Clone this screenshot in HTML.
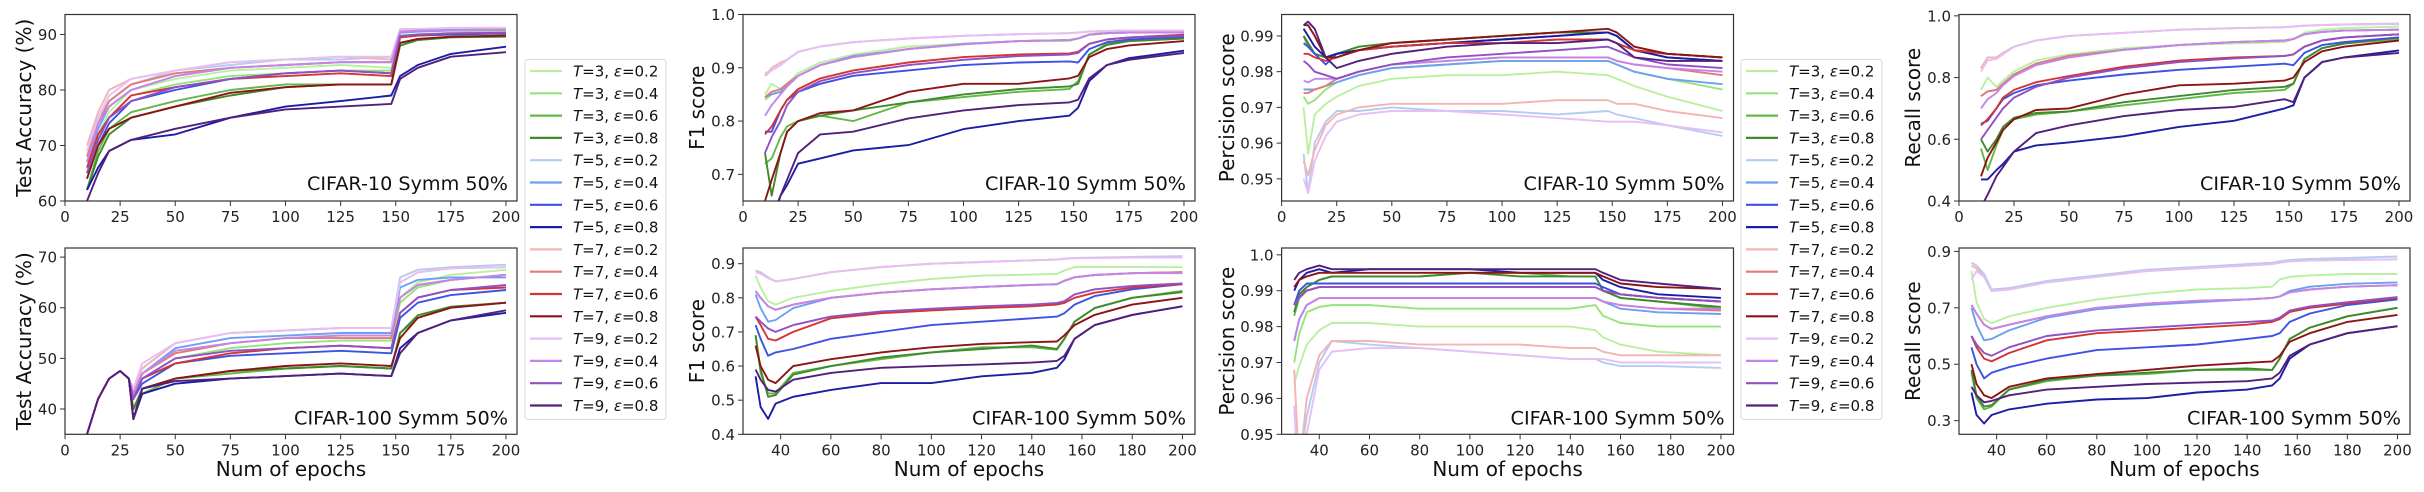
<!DOCTYPE html>
<html><head><meta charset="utf-8">
<style>
html,body{margin:0;padding:0;background:#fff;}
svg{display:block;font-family:"DejaVu Sans","Liberation Sans",sans-serif;}
</style></head>
<body>
<svg id="fig" width="2424" height="492" viewBox="0 0 2424 492" xmlns="http://www.w3.org/2000/svg"></svg>
<script>
// ---------- data ----------
const seriesLabels = ["T=3, ε=0.2","T=3, ε=0.4","T=3, ε=0.6","T=3, ε=0.8","T=5, ε=0.2","T=5, ε=0.4","T=5, ε=0.6","T=5, ε=0.8","T=7, ε=0.2","T=7, ε=0.4","T=7, ε=0.6","T=7, ε=0.8","T=9, ε=0.2","T=9, ε=0.4","T=9, ε=0.6","T=9, ε=0.8"];
const seriesColors = ["#b9f0a0","#94e47a","#62b84a","#3f8a2c","#b4ccf2","#6f9ff0","#3d52e2","#1c1ca6","#f2b4b4","#e67878","#d43434","#8c1414","#e6bff4","#c385ea","#9150c4","#52207c"];

const epochsAcc10 = [10,15,20,30,50,75,100,125,148,152,160,175,200];
const accC10 = [
[65,72,76,80,82,83.5,84,84.5,84,89.5,89.8,90,90.3],
[64,71,75,79,81,82.5,83,83.5,83.5,89.8,90,90.3,90.5],
[62,69,73,76,78,80,81,81,81,88.5,89,89.5,89.8],
[62,68,72,75,77,79,80.5,81,81,88,89,89.5,89.6],
[68,75,78,81,83.5,84.5,85.5,85.5,86,90.8,91,91,91],
[67,73,77,80,82.5,84,84.5,85,85,90.3,90.5,90.7,90.8],
[65,70,74,78,80,82,83,83.5,83,89.5,89.8,90,90.2],
[62,66,69,71,72,75,77,78,79,82.5,84.5,86.5,87.8],
[70,76,80,82,83.5,85,85.5,86,85.5,90.8,91,91,91],
[68,74,78,81,83,84,84.5,85,85,90.5,90.7,90.8,91],
[66,72,75,79,80.5,82,82.5,83,82.5,89.5,89.8,90.2,90.3],
[64,70,73,75,77,79.5,80.5,81,81,88.5,89.2,89.6,89.8],
[69,75,79,82,83.5,85,85.5,86,86,91,91,91.2,91.2],
[67,74,77,80,82.5,84,84.5,85,85,90.5,90.7,90.8,90.8],
[65,71,75,78,80.5,82,83,83.5,83,89.7,90,90.2,90.3],
[60,65,69,71,73,75,76.5,77,77.5,82,84,86,86.8]];

const epochsAcc100 = [10,15,20,25,29,31,35,50,75,100,125,148,152,160,175,200];
const accC100 = [
[35,42,46,47.5,46,44,47,51,53,54,54.5,54.5,62,65,66.5,67.5],
[35,42,46,47.5,46,43,46,50,52,53,53.5,53.5,61,64,65.5,66.5],
[35,42,46,47.5,46,40,43,46,47,48,48.5,48,55,58,60,61],
[35,42,46,47.5,46,40,44,46,47.5,48,48.5,48,55,58.5,60.2,61],
[35,42,46,47.5,46,44,48,53,55,55.5,56,56,66,67.5,68,68.5],
[35,42,46,47.5,46,43,47,52,54,54.5,55,55,64,65.5,66,66],
[35,42,46,47.5,46,42,45,49,50.5,51,51.5,51,58,61,62.5,63.5],
[35,42,46,47.5,46,38,43,45,46,46.5,47,46.5,52,55,57.5,59],
[35,42,46,47.5,46,44,48,53,55,55.5,56,56,65,67,67.8,68],
[35,42,46,47.5,46,43,47,51,53,54,54,54,62,64.5,65.5,66.5],
[35,42,46,47.5,46,42,46,49,51,52,52.5,52,59,62,63.5,64],
[35,42,46,47.5,46,38,44,46,47.5,48.5,49,48.5,54,58,60,61],
[35,42,46,47.5,46,44,49,53,55,55.5,56,56,65,67,67.8,68],
[35,42,46,47.5,46,43,47,51.5,53,54,54.5,54.5,62,64.5,65.5,66.5],
[35,42,46,47.5,46,42,46,50,51.5,52,52.5,52,59,62,63.5,64.5],
[35,42,46,47.5,46,38,44,45.5,46,46.5,47,46.5,51,55,57.5,59.5]];

const epochsC10 = [10,13,17,20,25,35,50,75,100,125,148,152,157,165,175,200];
const f1C10 = [
[0.85,0.87,0.86,0.87,0.89,0.91,0.925,0.94,0.945,0.95,0.95,0.955,0.963,0.966,0.967,0.968],
[0.84,0.85,0.855,0.87,0.885,0.905,0.92,0.935,0.945,0.95,0.952,0.955,0.962,0.965,0.966,0.967],
[0.72,0.73,0.77,0.79,0.80,0.81,0.80,0.835,0.845,0.855,0.86,0.875,0.925,0.945,0.95,0.955],
[0.74,0.66,0.74,0.78,0.80,0.81,0.82,0.835,0.85,0.86,0.865,0.87,0.925,0.943,0.95,0.955],
[0.885,0.895,0.905,0.915,0.93,0.94,0.948,0.955,0.96,0.963,0.965,0.966,0.968,0.969,0.97,0.97],
[0.845,0.85,0.855,0.865,0.885,0.905,0.922,0.935,0.945,0.95,0.952,0.955,0.962,0.965,0.966,0.967],
[0.78,0.78,0.82,0.84,0.855,0.87,0.885,0.895,0.905,0.91,0.912,0.91,0.935,0.948,0.953,0.958],
[0.6,0.62,0.66,0.68,0.72,0.73,0.745,0.755,0.785,0.80,0.81,0.825,0.875,0.905,0.918,0.932],
[0.885,0.9,0.91,0.915,0.93,0.94,0.948,0.955,0.96,0.963,0.965,0.966,0.968,0.969,0.97,0.97],
[0.845,0.855,0.86,0.87,0.885,0.905,0.92,0.935,0.944,0.95,0.952,0.955,0.962,0.965,0.966,0.967],
[0.775,0.79,0.82,0.84,0.86,0.88,0.895,0.91,0.92,0.925,0.927,0.93,0.945,0.953,0.957,0.962],
[0.65,0.69,0.74,0.78,0.80,0.815,0.82,0.855,0.87,0.87,0.88,0.885,0.92,0.935,0.942,0.95],
[0.89,0.895,0.905,0.915,0.93,0.94,0.948,0.955,0.96,0.963,0.965,0.966,0.968,0.969,0.97,0.97],
[0.81,0.83,0.85,0.865,0.885,0.905,0.92,0.935,0.944,0.95,0.952,0.955,0.962,0.965,0.966,0.966],
[0.74,0.77,0.8,0.83,0.855,0.875,0.89,0.905,0.915,0.922,0.925,0.928,0.945,0.953,0.957,0.96],
[0.55,0.6,0.66,0.69,0.74,0.775,0.78,0.805,0.82,0.83,0.835,0.84,0.88,0.905,0.915,0.928]];

const epochsC100 = [30,32,35,38,45,60,80,100,120,140,150,153,157,165,180,200];
const f1C100 = [
[0.865,0.83,0.79,0.78,0.8,0.82,0.84,0.855,0.865,0.868,0.87,0.88,0.89,0.89,0.89,0.89],
[0.82,0.8,0.775,0.765,0.78,0.8,0.815,0.825,0.832,0.838,0.84,0.85,0.86,0.867,0.872,0.875],
[0.69,0.58,0.52,0.52,0.58,0.6,0.62,0.64,0.655,0.655,0.648,0.68,0.73,0.77,0.8,0.82],
[0.69,0.59,0.51,0.515,0.575,0.6,0.625,0.64,0.65,0.66,0.65,0.68,0.73,0.77,0.8,0.817],
[0.88,0.875,0.86,0.848,0.855,0.875,0.89,0.9,0.905,0.91,0.912,0.915,0.917,0.918,0.92,0.922],
[0.81,0.77,0.73,0.735,0.77,0.8,0.815,0.825,0.832,0.838,0.84,0.85,0.86,0.867,0.872,0.875],
[0.72,0.68,0.63,0.64,0.65,0.68,0.7,0.72,0.73,0.74,0.745,0.755,0.78,0.805,0.825,0.84],
[0.57,0.48,0.445,0.49,0.51,0.53,0.55,0.55,0.57,0.58,0.595,0.62,0.68,0.72,0.75,0.775],
[0.88,0.872,0.858,0.848,0.855,0.875,0.89,0.9,0.905,0.91,0.912,0.914,0.916,0.917,0.918,0.918],
[0.82,0.8,0.775,0.765,0.78,0.8,0.815,0.825,0.832,0.838,0.84,0.85,0.86,0.867,0.872,0.875],
[0.745,0.72,0.68,0.675,0.7,0.74,0.755,0.763,0.77,0.775,0.78,0.785,0.8,0.815,0.83,0.84],
[0.66,0.6,0.56,0.55,0.6,0.62,0.64,0.655,0.665,0.67,0.672,0.69,0.72,0.75,0.78,0.8],
[0.875,0.87,0.858,0.848,0.855,0.875,0.89,0.9,0.905,0.91,0.912,0.914,0.916,0.917,0.918,0.918],
[0.82,0.8,0.775,0.765,0.78,0.8,0.815,0.825,0.832,0.838,0.84,0.85,0.86,0.867,0.872,0.872],
[0.745,0.73,0.71,0.7,0.72,0.745,0.76,0.768,0.775,0.78,0.785,0.79,0.81,0.825,0.835,0.842],
[0.59,0.56,0.53,0.525,0.56,0.58,0.595,0.6,0.605,0.61,0.615,0.63,0.68,0.72,0.75,0.775]];

const epochsPrec10 = [10,12,15,20,25,35,50,75,100,125,148,152,160,175,200];
const precC10 = [
[0.97,0.957,0.968,0.971,0.973,0.976,0.978,0.979,0.979,0.98,0.979,0.978,0.976,0.973,0.969],
[0.973,0.971,0.972,0.975,0.977,0.979,0.981,0.982,0.983,0.983,0.983,0.982,0.98,0.978,0.975],
[0.99,0.987,0.985,0.984,0.985,0.986,0.988,0.989,0.99,0.991,0.991,0.99,0.986,0.985,0.984],
[0.99,0.988,0.985,0.984,0.985,0.987,0.988,0.989,0.99,0.991,0.991,0.99,0.986,0.985,0.984],
[0.957,0.946,0.96,0.966,0.969,0.969,0.97,0.969,0.969,0.968,0.969,0.968,0.967,0.965,0.962],
[0.975,0.975,0.975,0.976,0.977,0.979,0.981,0.982,0.983,0.983,0.983,0.982,0.98,0.978,0.9765],
[0.988,0.987,0.985,0.982,0.985,0.986,0.987,0.988,0.989,0.99,0.991,0.99,0.986,0.984,0.983],
[0.992,0.99,0.987,0.984,0.985,0.986,0.987,0.988,0.989,0.99,0.991,0.99,0.986,0.984,0.983],
[0.955,0.951,0.958,0.965,0.968,0.97,0.971,0.971,0.971,0.972,0.972,0.971,0.971,0.969,0.967],
[0.974,0.974,0.975,0.976,0.978,0.98,0.982,0.983,0.984,0.984,0.984,0.983,0.982,0.981,0.979],
[0.985,0.985,0.984,0.983,0.984,0.986,0.987,0.988,0.988,0.989,0.989,0.988,0.986,0.985,0.984],
[0.993,0.993,0.99,0.984,0.984,0.986,0.988,0.989,0.99,0.991,0.992,0.991,0.987,0.985,0.984],
[0.95,0.946,0.955,0.962,0.966,0.968,0.969,0.969,0.968,0.967,0.966,0.966,0.966,0.965,0.963],
[0.9775,0.977,0.978,0.978,0.978,0.98,0.982,0.983,0.984,0.984,0.984,0.983,0.982,0.981,0.98],
[0.983,0.982,0.98,0.979,0.978,0.98,0.982,0.984,0.985,0.986,0.987,0.986,0.984,0.982,0.981],
[0.993,0.994,0.992,0.984,0.981,0.983,0.985,0.987,0.988,0.988,0.989,0.988,0.984,0.983,0.983]];

const epochsPrec100 = [30,32,35,40,45,60,80,100,120,140,150,153,160,175,200];
const precC100 = [
[0.964,0.969,0.975,0.979,0.981,0.981,0.98,0.98,0.98,0.98,0.979,0.977,0.975,0.973,0.972],
[0.97,0.978,0.984,0.9855,0.986,0.986,0.985,0.985,0.985,0.985,0.986,0.983,0.981,0.98,0.98],
[0.983,0.988,0.991,0.993,0.994,0.994,0.994,0.995,0.995,0.994,0.994,0.99,0.988,0.987,0.985],
[0.984,0.989,0.991,0.993,0.994,0.994,0.994,0.995,0.994,0.994,0.994,0.99,0.988,0.987,0.9855],
[0.958,0.94,0.955,0.97,0.976,0.975,0.974,0.973,0.972,0.971,0.971,0.97,0.969,0.969,0.9685],
[0.976,0.982,0.986,0.988,0.988,0.988,0.988,0.988,0.988,0.988,0.988,0.987,0.985,0.984,0.9835],
[0.986,0.99,0.992,0.992,0.992,0.992,0.992,0.992,0.992,0.992,0.992,0.991,0.989,0.988,0.987],
[0.99,0.993,0.995,0.996,0.995,0.996,0.996,0.996,0.995,0.995,0.995,0.993,0.991,0.989,0.988],
[0.968,0.94,0.96,0.972,0.976,0.976,0.975,0.975,0.975,0.974,0.974,0.973,0.972,0.972,0.972],
[0.976,0.982,0.986,0.988,0.988,0.988,0.988,0.988,0.988,0.988,0.988,0.987,0.986,0.985,0.9845],
[0.986,0.988,0.99,0.991,0.991,0.991,0.991,0.991,0.991,0.991,0.991,0.99,0.989,0.988,0.987],
[0.991,0.993,0.994,0.995,0.995,0.995,0.995,0.995,0.995,0.995,0.995,0.994,0.992,0.991,0.9905],
[0.958,0.93,0.95,0.968,0.973,0.974,0.974,0.973,0.972,0.971,0.971,0.971,0.97,0.97,0.97],
[0.976,0.982,0.986,0.988,0.988,0.988,0.988,0.988,0.988,0.988,0.988,0.987,0.986,0.985,0.985],
[0.986,0.988,0.99,0.991,0.991,0.991,0.991,0.991,0.991,0.991,0.991,0.99,0.989,0.988,0.987],
[0.993,0.995,0.996,0.997,0.996,0.996,0.996,0.996,0.996,0.996,0.996,0.995,0.993,0.992,0.9905]];

const recC10 = [
[0.76,0.8,0.77,0.79,0.82,0.855,0.875,0.895,0.905,0.91,0.915,0.925,0.945,0.955,0.96,0.965],
[0.74,0.755,0.76,0.78,0.81,0.845,0.87,0.89,0.905,0.915,0.92,0.925,0.94,0.948,0.952,0.955],
[0.57,0.5,0.58,0.63,0.665,0.68,0.69,0.71,0.73,0.75,0.76,0.78,0.86,0.895,0.91,0.925],
[0.6,0.56,0.6,0.64,0.67,0.685,0.69,0.72,0.74,0.76,0.77,0.78,0.86,0.895,0.91,0.93],
[0.83,0.865,0.865,0.88,0.9,0.92,0.935,0.945,0.955,0.96,0.963,0.965,0.968,0.97,0.972,0.975],
[0.74,0.755,0.76,0.78,0.81,0.845,0.87,0.89,0.905,0.915,0.92,0.925,0.94,0.948,0.952,0.955],
[0.65,0.66,0.7,0.73,0.75,0.775,0.79,0.81,0.825,0.835,0.845,0.84,0.88,0.905,0.915,0.93],
[0.47,0.47,0.5,0.52,0.56,0.58,0.59,0.61,0.64,0.66,0.70,0.71,0.8,0.85,0.865,0.888],
[0.83,0.865,0.865,0.88,0.9,0.92,0.935,0.945,0.955,0.96,0.963,0.965,0.968,0.97,0.972,0.974],
[0.74,0.755,0.76,0.78,0.81,0.845,0.87,0.89,0.905,0.915,0.92,0.925,0.94,0.948,0.952,0.955],
[0.645,0.665,0.7,0.735,0.76,0.785,0.805,0.835,0.855,0.865,0.87,0.875,0.9,0.92,0.93,0.94],
[0.48,0.54,0.59,0.63,0.665,0.695,0.7,0.745,0.775,0.78,0.79,0.8,0.85,0.885,0.9,0.92],
[0.82,0.855,0.86,0.875,0.9,0.92,0.935,0.945,0.955,0.96,0.963,0.965,0.968,0.97,0.972,0.974],
[0.7,0.73,0.75,0.775,0.805,0.84,0.865,0.89,0.905,0.915,0.92,0.925,0.94,0.948,0.952,0.955],
[0.6,0.63,0.67,0.7,0.735,0.77,0.8,0.83,0.85,0.862,0.87,0.875,0.9,0.92,0.93,0.94],
[0.38,0.42,0.48,0.51,0.56,0.62,0.645,0.675,0.695,0.705,0.73,0.72,0.8,0.85,0.865,0.88]];

const recC100 = [
[0.83,0.72,0.66,0.645,0.67,0.70,0.73,0.75,0.765,0.77,0.775,0.8,0.81,0.815,0.82,0.82],
[0.71,0.68,0.64,0.625,0.64,0.67,0.7,0.715,0.725,0.73,0.735,0.74,0.755,0.765,0.775,0.78],
[0.47,0.38,0.34,0.35,0.41,0.44,0.46,0.465,0.48,0.48,0.48,0.52,0.59,0.63,0.67,0.70],
[0.48,0.39,0.35,0.355,0.41,0.445,0.46,0.47,0.48,0.485,0.48,0.52,0.59,0.63,0.67,0.70],
[0.86,0.85,0.82,0.765,0.77,0.795,0.815,0.835,0.845,0.855,0.86,0.865,0.87,0.873,0.877,0.882],
[0.7,0.64,0.585,0.59,0.62,0.665,0.695,0.71,0.72,0.73,0.735,0.74,0.76,0.775,0.785,0.79],
[0.56,0.5,0.45,0.47,0.49,0.52,0.55,0.56,0.57,0.59,0.6,0.61,0.65,0.68,0.71,0.73],
[0.4,0.32,0.29,0.32,0.34,0.36,0.375,0.38,0.4,0.41,0.425,0.45,0.52,0.57,0.61,0.635],
[0.85,0.84,0.81,0.76,0.765,0.79,0.81,0.83,0.84,0.85,0.855,0.86,0.865,0.868,0.87,0.872],
[0.71,0.68,0.64,0.625,0.64,0.67,0.7,0.715,0.725,0.73,0.735,0.74,0.755,0.765,0.775,0.78],
[0.6,0.56,0.52,0.51,0.54,0.585,0.61,0.62,0.63,0.64,0.65,0.66,0.685,0.7,0.715,0.735],
[0.5,0.43,0.39,0.38,0.42,0.45,0.465,0.48,0.495,0.505,0.51,0.53,0.58,0.61,0.65,0.675],
[0.8,0.83,0.81,0.76,0.765,0.79,0.81,0.83,0.84,0.85,0.855,0.86,0.865,0.868,0.87,0.872],
[0.71,0.68,0.64,0.625,0.64,0.67,0.7,0.715,0.725,0.73,0.735,0.74,0.755,0.765,0.775,0.78],
[0.6,0.57,0.54,0.53,0.56,0.6,0.62,0.63,0.64,0.65,0.655,0.665,0.69,0.705,0.72,0.738],
[0.42,0.39,0.365,0.37,0.39,0.41,0.42,0.43,0.435,0.44,0.45,0.47,0.53,0.57,0.61,0.635]];

const xTicksA = [0,25,50,75,100,125,150,175,200];
const xTicksB = [40,60,80,100,120,140,160,180,200];
const yTicksAcc10 = [60,70,80,90];
const yTicksAcc100 = [40,50,60,70];
const yTicksF110 = [0.7,0.8,0.9,1.0];
const yTicksF1100 = [0.4,0.5,0.6,0.7,0.8,0.9];
const yTicksP10 = [0.95,0.96,0.97,0.98,0.99];
const yTicksP100 = [0.95,0.96,0.97,0.98,0.99,1.0];
const yTicksR10 = [0.4,0.6,0.8,1.0];
const yTicksR100 = [0.3,0.5,0.7,0.9];

// ---------- layout ----------
const NS = "http://www.w3.org/2000/svg";
const svg = document.getElementById("fig");
const COLS = [[65,517],[743,1195],[1281.6,1733.5],[1959,2410]];
const ROWS = [[14.5,201],[248,434.3]];
const YLAB_X = [24,697,1227,1913];

function mk(tag, attrs, parent){
  const e = document.createElementNS(NS, tag);
  for (const k in attrs) e.setAttribute(k, attrs[k]);
  (parent||svg).appendChild(e);
  return e;
}
function fmt(v, dec){ return dec===0 ? String(v) : v.toFixed(dec); }

const panels = [
 {name:"acc-cifar10", c:0,r:0, xs:epochsAcc10, ys:accC10, xl:[0,205], yl:[60,93.6], xt:xTicksA, yt:yTicksAcc10, dec:0, ylabel:"Test Accuracy (%)", note:"CIFAR-10 Symm 50%"},
 {name:"acc-cifar100", c:0,r:1, xs:epochsAcc100, ys:accC100, xl:[0,205], yl:[35,71.8], xt:xTicksA, yt:yTicksAcc100, dec:0, ylabel:"Test Accuracy (%)", note:"CIFAR-100 Symm 50%"},
 {name:"f1-cifar10", c:1,r:0, xs:epochsC10, ys:f1C10, xl:[0,205], yl:[0.65,1.0], xt:xTicksA, yt:yTicksF110, dec:1, ylabel:"F1 score", note:"CIFAR-10 Symm 50%"},
 {name:"f1-cifar100", c:1,r:1, xs:epochsC100, ys:f1C100, xl:[25,205], yl:[0.4,0.946], xt:xTicksB, yt:yTicksF1100, dec:1, ylabel:"F1 score", note:"CIFAR-100 Symm 50%"},
 {name:"precision-cifar10", c:2,r:0, xs:epochsPrec10, ys:precC10, xl:[0,205], yl:[0.9438,0.996], xt:xTicksA, yt:yTicksP10, dec:2, ylabel:"Percision score", note:"CIFAR-10 Symm 50%"},
 {name:"precision-cifar100", c:2,r:1, xs:epochsPrec100, ys:precC100, xl:[25,205], yl:[0.95,1.0019], xt:xTicksB, yt:yTicksP100, dec:2, ylabel:"Percision score", note:"CIFAR-100 Symm 50%", lastDec1:true},
 {name:"recall-cifar10", c:3,r:0, xs:epochsC10, ys:recC10, xl:[0,205], yl:[0.4,1.0043], xt:xTicksA, yt:yTicksR10, dec:1, ylabel:"Recall score", note:"CIFAR-10 Symm 50%"},
 {name:"recall-cifar100", c:3,r:1, xs:epochsC100, ys:recC100, xl:[25,205], yl:[0.2517,0.912], xt:xTicksB, yt:yTicksR100, dec:1, ylabel:"Recall score", note:"CIFAR-100 Symm 50%"}
];

panels.forEach((p, pi) => {
  const [x0,x1] = COLS[p.c], [y0,y1] = ROWS[p.r];
  const sx = v => x0 + (v - p.xl[0]) / (p.xl[1]-p.xl[0]) * (x1-x0);
  const sy = v => y1 - (v - p.yl[0]) / (p.yl[1]-p.yl[0]) * (y1-y0);
  const g = mk("g", {});
  
  
  const clipId = "clip" + pi;
  const cp = mk("clipPath", {id: clipId}, g);
  mk("rect", {x:x0, y:y0, width:x1-x0, height:y1-y0}, cp);
  const lines = mk("g", {"clip-path":"url(#"+clipId+")"}, g);
  
  
  p.ys.forEach((vals, si) => {
    const pts = vals.map((v,i) => sx(p.xs[i]).toFixed(1) + "," + sy(v).toFixed(1)).join(" ");
    const pl = mk("polyline", {points: pts, fill:"none", stroke: seriesColors[si], "stroke-width":1.9, "stroke-linejoin":"round"}, lines);
    
    
  });
  const frame = mk("rect", {x:x0, y:y0, width:x1-x0, height:y1-y0, fill:"none", stroke:"#333", "stroke-width":1.2}, g);
  
  
  p.xt.forEach(t => {
    const x = sx(t);
    mk("line", {x1:x, x2:x, y1:y1, y2:y1+5, stroke:"#333", "stroke-width":1}, g);
    const tx = mk("text", {x:x, y:y1+21, "text-anchor":"middle", "font-size":15, fill:"#222"}, g);
    tx.textContent = t;
    
    
  });
  p.yt.forEach((t, ti) => {
    const y = sy(t);
    mk("line", {x1:x0-5, x2:x0, y1:y, y2:y, stroke:"#333", "stroke-width":1}, g);
    const ty = mk("text", {x:x0-8, y:y+5.5, "text-anchor":"end", "font-size":15, fill:"#222"}, g);
    ty.textContent = (p.lastDec1 && ti === p.yt.length-1) ? t.toFixed(1) : fmt(t, p.dec);
    
    
  });
  const yl = mk("text", {x:0, y:0, "text-anchor":"middle", "font-size":20, fill:"#111", transform:"translate("+(YLAB_X[p.c]+7)+","+((y0+y1)/2)+") rotate(-90)"}, g);
  yl.textContent = p.ylabel;
  
  
  const noteW = p.r === 0 ? 201 : 214;
  const nt = mk("text", {x:x1-9, y:y1-(p.r===0?11:10), "text-anchor":"end", "font-size":19, fill:"#111", textLength:noteW, lengthAdjust:"spacingAndGlyphs"}, g);
  nt.textContent = p.note;
  
  
  if (p.r === 1) {
    const xl = mk("text", {x:(x0+x1)/2, y:476, "text-anchor":"middle", "font-size":20, fill:"#111"}, g);
    xl.textContent = "Num of epochs";
    
    
  }
});

// ---------- legends ----------
[525, 1741].forEach((lx, li) => {
  const g = mk("g", {});
  
  
  mk("rect", {x:lx, y:59.5, width:141, height:360, rx:3, fill:"#fff", stroke:"#d8d8d8", "stroke-width":1}, g);
  seriesLabels.forEach((lab, si) => {
    const y = 71 + si*22.3;
    const e = mk("g", {}, g);
    
    
    mk("line", {x1:lx+5, x2:lx+37, y1:y, y2:y, stroke:seriesColors[si], "stroke-width":2.2}, e);
    const t = mk("text", {x:lx+48, y:y+5.5, "font-size":15, fill:"#111"}, e);
    const parts = lab.split(", ");
    const ti = mk("tspan", {"font-style":"italic"}, t); ti.textContent = "T";
    const t2 = mk("tspan", {}, t); t2.textContent = parts[0].slice(1) + ", ";
    const t3 = mk("tspan", {"font-style":"italic"}, t); t3.textContent = "ε";
    const t4 = mk("tspan", {}, t); t4.textContent = parts[1].slice(1);
  });
});
</script>
</body></html>
